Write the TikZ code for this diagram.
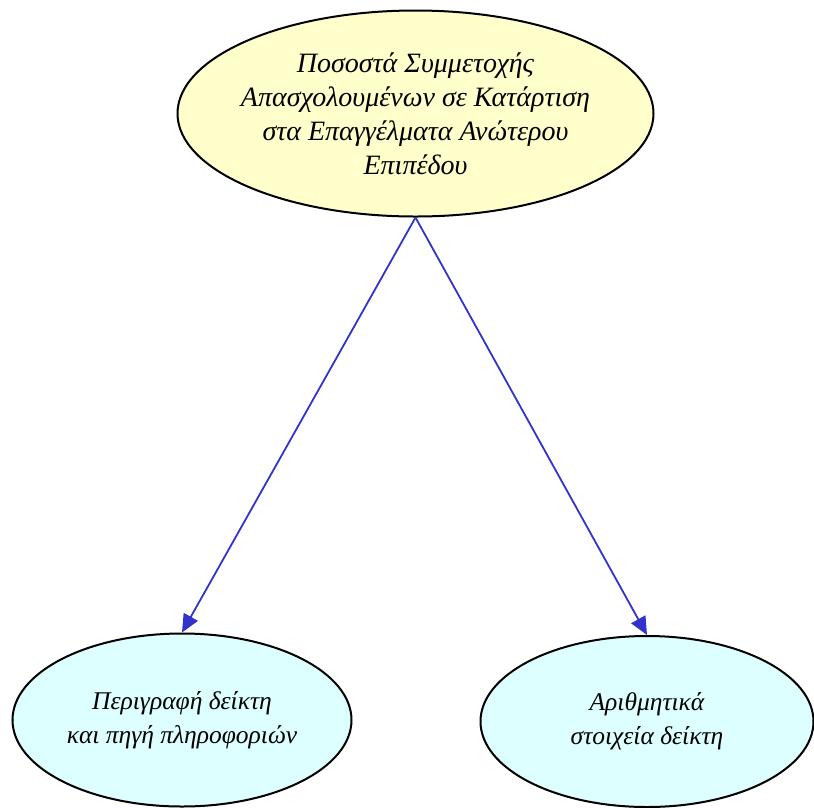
\documentclass[tikz,border=0pt]{standalone}
\usepackage{fontspec}
\setmainfont{Liberation Serif}
\usetikzlibrary{arrows.meta,shapes.geometric}
\definecolor{topfill}{HTML}{FFFFCC}
\definecolor{partfill}{HTML}{DDFFFF}
\definecolor{linkblue}{HTML}{3333CC}
\tikzset{
  oval/.style={draw,ellipse,line width=2pt,align=center,inner sep=0pt},
  topic/.style={oval,fill=topfill,minimum width=476pt,minimum height=206pt,
    inner xsep=-30pt,font=\itshape\fontsize{28}{34}\selectfont},
  part/.style={oval,fill=partfill,font=\itshape\fontsize{25.5}{34}\selectfont},
  link/.style={-{Triangle[length=18pt,width=16pt]},linkblue,line width=1.8pt}
}
\begin{document}
\begin{tikzpicture}[x=1pt,y=-1pt]
\useasboundingbox (0,0) rectangle (814,807);
\node[topic] (rate) at (415.5,113.5) {Ποσοστά Συμμετοχής\\Απασχολουμένων σε Κατάρτιση\\στα Επαγγέλματα Ανώτερου\\Επιπέδου};
\node[part,minimum width=339pt,minimum height=173pt] (desc) at (182,720) {Περιγραφή δείκτη\\και πηγή πληροφοριών};
\node[part,minimum width=333pt,minimum height=171pt] (nums) at (647,721.5) {Αριθμητικά\\στοιχεία δείκτη};
\draw[link] (rate.south) -- (desc.north);
\draw[link] (rate.south) -- (nums.north);
\end{tikzpicture}
\end{document}
